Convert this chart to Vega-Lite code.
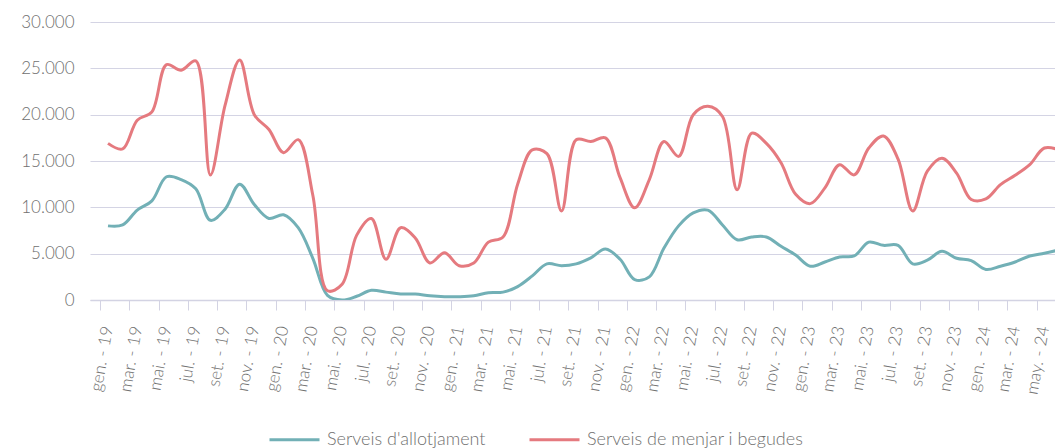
{
 "$schema": "https://vega.github.io/schema/vega-lite/v6.json",
 "width": 965,
 "height": 278,
 "autosize": {"type": "none"},
 "padding": {"left": 90, "top": 22, "right": 0, "bottom": 148},
 "config": {"view": {"stroke": null}, "font": "Lato"},
 "data": {"values": [
  {"mes": "gen. - 19", "allotjament": 8000, "menjar": 16900},
  {"mes": "feb. - 19", "allotjament": 8100, "menjar": 16300},
  {"mes": "mar. - 19", "allotjament": 9700, "menjar": 19400},
  {"mes": "abr. - 19", "allotjament": 10700, "menjar": 20300},
  {"mes": "mai. - 19", "allotjament": 13300, "menjar": 25400},
  {"mes": "jun. - 19", "allotjament": 13000, "menjar": 24800},
  {"mes": "jul. - 19", "allotjament": 12000, "menjar": 25800},
  {"mes": "ago. - 19", "allotjament": 8600, "menjar": 13500},
  {"mes": "set. - 19", "allotjament": 9800, "menjar": 21000},
  {"mes": "oct. - 19", "allotjament": 12500, "menjar": 25900},
  {"mes": "nov. - 19", "allotjament": 10300, "menjar": 20000},
  {"mes": "des. - 19", "allotjament": 8800, "menjar": 18400},
  {"mes": "gen. - 20", "allotjament": 9200, "menjar": 15900},
  {"mes": "feb. - 20", "allotjament": 7800, "menjar": 17300},
  {"mes": "mar. - 20", "allotjament": 4500, "menjar": 11300},
  {"mes": "abr. - 20", "allotjament": 500, "menjar": 1000},
  {"mes": "mai. - 20", "allotjament": 0, "menjar": 1700},
  {"mes": "jun. - 20", "allotjament": 400, "menjar": 7000},
  {"mes": "jul. - 20", "allotjament": 1050, "menjar": 8800},
  {"mes": "ago. - 20", "allotjament": 850, "menjar": 4400},
  {"mes": "set. - 20", "allotjament": 650, "menjar": 7800},
  {"mes": "oct. - 20", "allotjament": 650, "menjar": 6700},
  {"mes": "nov. - 20", "allotjament": 450, "menjar": 4000},
  {"mes": "des. - 20", "allotjament": 350, "menjar": 5100},
  {"mes": "gen. - 21", "allotjament": 350, "menjar": 3700},
  {"mes": "feb. - 21", "allotjament": 450, "menjar": 4000},
  {"mes": "mar. - 21", "allotjament": 780, "menjar": 6250},
  {"mes": "abr. - 21", "allotjament": 850, "menjar": 6800},
  {"mes": "mai. - 21", "allotjament": 1450, "menjar": 12500},
  {"mes": "jun. - 21", "allotjament": 2600, "menjar": 16200},
  {"mes": "jul. - 21", "allotjament": 3900, "menjar": 15800},
  {"mes": "ago. - 21", "allotjament": 3700, "menjar": 9600},
  {"mes": "set. - 21", "allotjament": 3900, "menjar": 17300},
  {"mes": "oct. - 21", "allotjament": 4550, "menjar": 17100},
  {"mes": "nov. - 21", "allotjament": 5500, "menjar": 17500},
  {"mes": "des. - 21", "allotjament": 4400, "menjar": 13200},
  {"mes": "gen. - 22", "allotjament": 2200, "menjar": 9950},
  {"mes": "feb. - 22", "allotjament": 2500, "menjar": 13000},
  {"mes": "mar. - 22", "allotjament": 5600, "menjar": 17100},
  {"mes": "abr. - 22", "allotjament": 8000, "menjar": 15500},
  {"mes": "mai. - 22", "allotjament": 9400, "menjar": 20000},
  {"mes": "jun. - 22", "allotjament": 9700, "menjar": 20900},
  {"mes": "jul. - 22", "allotjament": 8100, "menjar": 19800},
  {"mes": "ago. - 22", "allotjament": 6500, "menjar": 11900},
  {"mes": "set. - 22", "allotjament": 6800, "menjar": 18000},
  {"mes": "oct. - 22", "allotjament": 6800, "menjar": 16900},
  {"mes": "nov. - 22", "allotjament": 5800, "menjar": 14800},
  {"mes": "des. - 22", "allotjament": 4850, "menjar": 11400},
  {"mes": "gen. - 23", "allotjament": 3650, "menjar": 10400},
  {"mes": "feb. - 23", "allotjament": 4100, "menjar": 12100},
  {"mes": "mar. - 23", "allotjament": 4650, "menjar": 14600},
  {"mes": "abr. - 23", "allotjament": 4750, "menjar": 13500},
  {"mes": "mai. - 23", "allotjament": 6250, "menjar": 16400},
  {"mes": "jun. - 23", "allotjament": 5900, "menjar": 17700},
  {"mes": "jul. - 23", "allotjament": 5900, "menjar": 15200},
  {"mes": "ago. - 23", "allotjament": 3900, "menjar": 9600},
  {"mes": "set. - 23", "allotjament": 4300, "menjar": 13900},
  {"mes": "oct. - 23", "allotjament": 5250, "menjar": 15300},
  {"mes": "nov. - 23", "allotjament": 4500, "menjar": 13700},
  {"mes": "des. - 23", "allotjament": 4250, "menjar": 10850},
  {"mes": "gen. - 24", "allotjament": 3300, "menjar": 10900},
  {"mes": "feb. - 24", "allotjament": 3650, "menjar": 12450},
  {"mes": "mar. - 24", "allotjament": 4100, "menjar": 13450},
  {"mes": "abr. - 24", "allotjament": 4750, "menjar": 14600},
  {"mes": "may. - 24", "allotjament": 5050, "menjar": 16400},
  {"mes": "jun. - 24", "allotjament": 5400, "menjar": 16200}
 ]},
 "transform": [{"fold": ["allotjament", "menjar"], "as": ["serie", "valor"]}],
 "mark": {"type": "line", "interpolate": "catmull-rom", "strokeWidth": 3, "clip": true},
 "encoding": {
  "x": {
   "field": "mes", "type": "ordinal", "sort": null, "bandPosition": 0.5,
   "scale": {"type": "band", "paddingInner": 0, "paddingOuter": 0.73, "range": [0, 987]},
   "axis": {
    "title": null,
    "values": ["gen. - 19","mar. - 19","mai. - 19","jul. - 19","set. - 19","nov. - 19","gen. - 20","mar. - 20","mai. - 20","jul. - 20","set. - 20","nov. - 20","gen. - 21","mar. - 21","mai. - 21","jul. - 21","set. - 21","nov. - 21","gen. - 22","mar. - 22","mai. - 22","jul. - 22","set. - 22","nov. - 22","gen. - 23","mar. - 23","mai. - 23","jul. - 23","set. - 23","nov. - 23","gen. - 24","mar. - 24","may. - 24"],
    "bandPosition": 0,
    "labelAngle": -80,
    "labelFont": "Lato", "labelFontWeight": 300, "labelFontSize": 17, "labelColor": "#707070",
    "labelPadding": 16, "labelOverlap": false,
    "tickSize": 10, "tickColor": "#d3d3e3", "tickWidth": 1,
    "domainColor": "#d3d3e3", "domainWidth": 1.5,
    "grid": false
   }
  },
  "y": {
   "field": "valor", "type": "quantitative",
   "scale": {"domain": [0, 30000], "nice": false, "zero": true},
   "axis": {
    "title": null,
    "values": [0, 5000, 10000, 15000, 20000, 25000, 30000],
    "labelExpr": "replace(format(datum.value, ','), ',', '.')",
    "domain": false, "ticks": false,
    "grid": true, "gridColor": "#d4d4e4", "gridWidth": 1,
    "labelFont": "Lato", "labelFontWeight": 300, "labelFontSize": 17, "labelColor": "#707070",
    "labelPadding": 16
   }
  },
  "color": {
   "field": "serie", "type": "nominal",
   "scale": {"domain": ["allotjament", "menjar"], "range": ["#72b0b6", "#e57a7f"]},
   "legend": {
    "title": null, "orient": "none", "legendX": 178, "legendY": 391,
    "direction": "horizontal", "padding": 0,
    "symbolType": "stroke", "symbolSize": 2500, "symbolStrokeWidth": 3,
    "labelFont": "Lato", "labelFontWeight": 300, "labelFontSize": 18, "labelColor": "#707070",
    "labelOffset": 6, "columnPadding": 37, "labelLimit": 400,
    "labelExpr": "datum.label == 'allotjament' ? \"Serveis d'allotjament\" : 'Serveis de menjar i begudes'"
   }
  }
 }
}
